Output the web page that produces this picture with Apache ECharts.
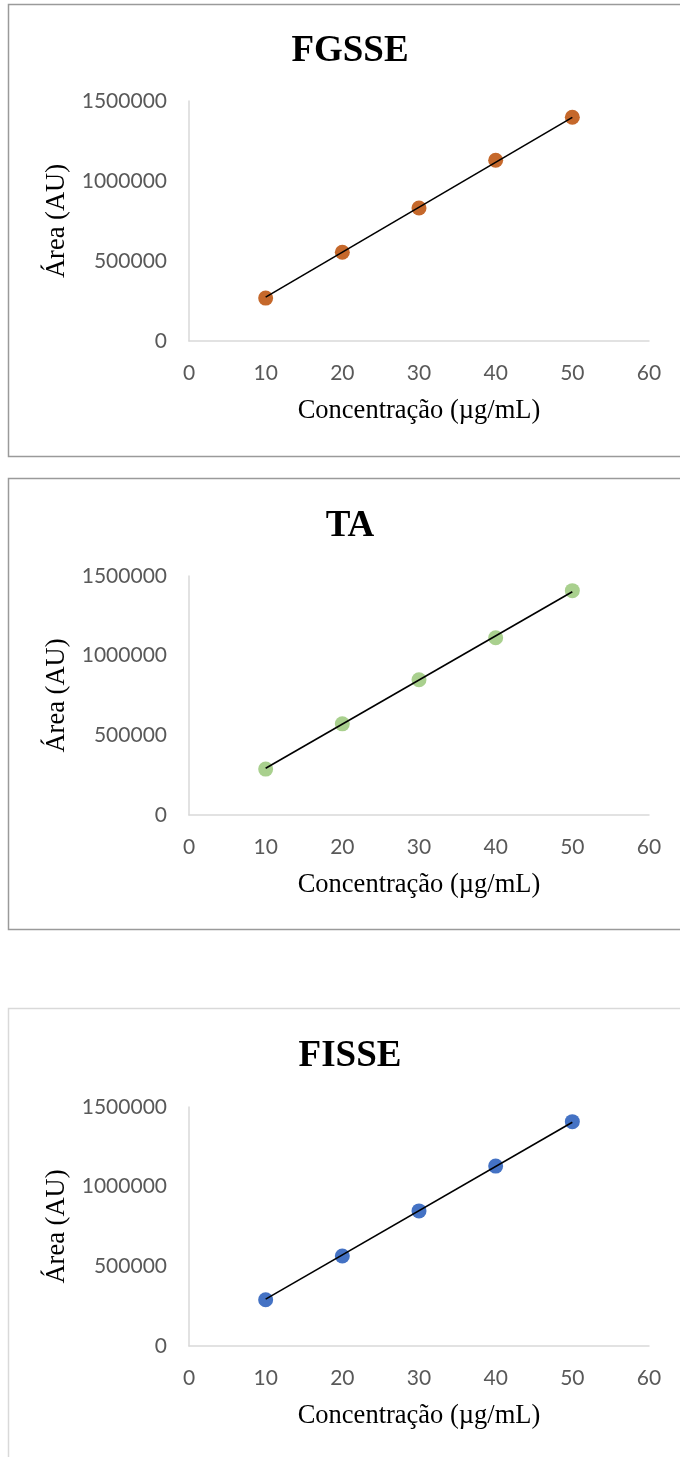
<!DOCTYPE html>
<html>
<head>
<meta charset="utf-8">
<script src="https://cdn.jsdelivr.net/npm/echarts@6/dist/echarts.min.js"></script>
<style>
html,body{margin:0;padding:0;background:#fff;}
#chart{width:680px;height:1457px;}
</style>
</head>
<body>
<div id="chart"></div>
<script>
// ---- data ----
var concentrations = [10, 20, 30, 40, 50];
var panelTitles = ['FGSSE', 'TA', 'FISSE'];
var fgsseArea = [268000, 555000, 831000, 1130000, 1398000];
var taArea    = [288000, 572000, 849000, 1112000, 1408000];
var fisseArea = [290000, 565000, 848000, 1129000, 1408000];
// trendline end points
var fgsseTrend = [[10, 274000], [50, 1398000]];
var taTrend    = [[10, 293000], [50, 1401000]];
var fisseTrend = [[10, 294000], [50, 1404000]];
var xTicks = [0, 10, 20, 30, 40, 50, 60];
var yTicks = [0, 500000, 1000000, 1500000];
var xAxisTitle = 'Concentração (µg/mL)';
var yAxisTitle = 'Área (AU)';

var areas = [fgsseArea, taArea, fisseArea];
var trends = [fgsseTrend, taTrend, fisseTrend];
var colors = ['#C5682B', '#A9D08E', '#4472C4'];

// layout
var gridTops = [101, 576, 1107];
var gridHeights = [240, 239, 239];
var titleTops = [28, 503, 1033];
var boxes = [
  {y: 4.5, h: 452, stroke: '#9a9a9a'},
  {y: 478.5, h: 451, stroke: '#9a9a9a'},
  {y: 1008.5, h: 460, stroke: '#d9d9d9'}
];

var chart = echarts.init(document.getElementById('chart'), null, {renderer: 'canvas'});

var grids = [], xAxes = [], yAxes = [], series = [], titles = [], graphics = [];
for (var i = 0; i < 3; i++) {
  grids.push({left: 189, width: 460, top: gridTops[i], height: gridHeights[i], containLabel: false});
  titles.push({
    text: panelTitles[i], left: 345, top: titleTops[i], textAlign: 'center',
    textStyle: {fontFamily: 'Liberation Serif', fontWeight: 'bold', fontSize: 37, color: '#000'}
  });
  xAxes.push({
    type: 'value', gridIndex: i, min: xTicks[0], max: xTicks[xTicks.length - 1], interval: 10,
    name: xAxisTitle, nameLocation: 'middle', nameGap: 57,
    nameTextStyle: {fontFamily: 'Liberation Serif', fontSize: 26.5, color: '#000'},
    axisLine: {show: true, lineStyle: {color: '#d9d9d9', width: 1.5}},
    axisTick: {show: false}, splitLine: {show: false},
    axisLabel: {fontFamily: 'Lato', fontSize: 21, color: '#595959', margin: 22,
      formatter: function (v) { return String(v); }}
  });
  yAxes.push({
    type: 'value', gridIndex: i, min: yTicks[0], max: yTicks[yTicks.length - 1], interval: 500000,
    name: yAxisTitle, nameLocation: 'middle', nameGap: 108, nameRotate: 90,
    nameTextStyle: {fontFamily: 'Liberation Serif', fontSize: 26.5, color: '#000'},
    axisLine: {show: true, lineStyle: {color: '#d9d9d9', width: 1.5}},
    axisTick: {show: false}, splitLine: {show: false},
    axisLabel: {fontFamily: 'Lato', fontSize: 21, color: '#595959', margin: 22,
      formatter: function (v) { return String(v); }}
  });
  series.push({
    type: 'scatter', xAxisIndex: i, yAxisIndex: i, symbolSize: 15,
    itemStyle: {color: colors[i], opacity: 1},
    data: concentrations.map(function (c, k) { return [c, areas[i][k]]; }),
    z: 2
  });
  series.push({
    type: 'line', xAxisIndex: i, yAxisIndex: i, symbol: 'none',
    lineStyle: {color: '#000', width: 1.6}, data: trends[i], z: 3, silent: true
  });
  graphics.push({
    type: 'rect', shape: {x: 8.5, y: boxes[i].y, width: 700, height: boxes[i].h},
    style: {fill: 'none', stroke: boxes[i].stroke, lineWidth: 1.5}, z: 0
  });
}

chart.setOption({
  animation: false,
  backgroundColor: '#fff',
  title: titles,
  grid: grids,
  xAxis: xAxes,
  yAxis: yAxes,
  series: series,
  graphic: graphics
});
</script>
</body>
</html>
